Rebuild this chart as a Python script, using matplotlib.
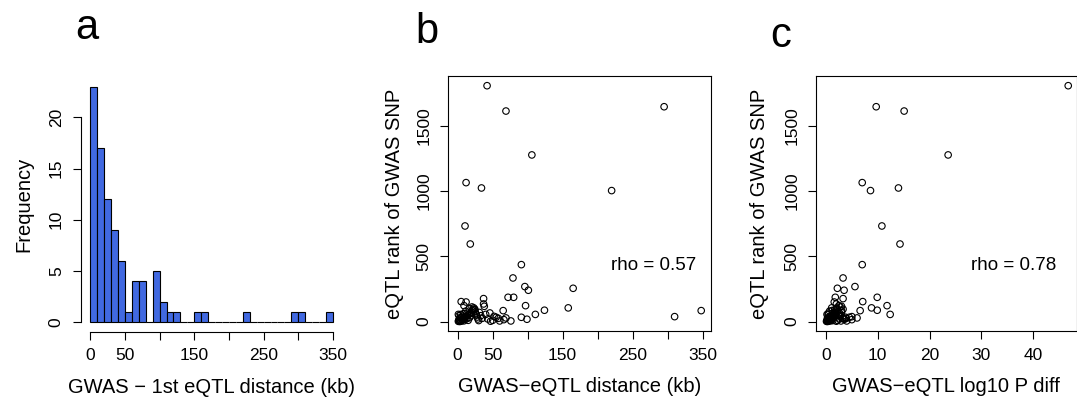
import numpy as np
import matplotlib
matplotlib.use("Agg")
import matplotlib.pyplot as plt

plt.rcParams['font.family'] = ['Liberation Sans', 'DejaVu Sans']

# panel a: histogram of GWAS - 1st eQTL distance, 10 kb bins from 0 to 350
bin_edges = list(range(0, 360, 10))
bin_counts = [23, 17, 12, 9, 6, 1, 4, 4, 0, 5, 2, 1, 1, 0, 0, 1, 1, 0, 0, 0,
              0, 0, 1, 0, 0, 0, 0, 0, 0, 1, 1, 0, 0, 0, 1]

# panels b and c: one entry per GWAS SNP
dist_kb = [42, 295, 69, 106, 12, 34, 220, 10.5, 18, 91, 79, 165, 96, 101, 72, 80,
           37, 37, 38, 97, 5, 12, 9, 158, 124, 111, 65, 348, 310, 91, 99, 69, 66,
           76, 47, 55, 46,
           1, 2, 3, 1.5, 4, 5, 6, 2.5, 7, 8, 3.5, 9, 10, 11, 12, 13, 14, 15, 16,
           17, 18, 19, 20, 21, 22, 23, 24, 25, 26, 27, 28, 29, 30, 6.5, 4.5, 8.5,
           11.5, 2, 5.5, 31, 33, 35, 40, 43, 50, 52, 58, 60, 16.5, 20.5, 24.5,
           9.5, 13.5, 1]
eqtl_rank = [1806, 1645, 1612, 1276, 1064, 1023, 1003, 732, 594, 436, 334, 255, 268,
             240, 186, 186, 176, 135, 117, 122, 153, 150, 122, 105, 87, 55, 84, 84,
             38, 33, 18, 28, 15, 5, 3, 33, 66,
             2, 5, 1, 10, 8, 3, 15, 20, 12, 25, 30, 6, 18, 35, 40, 22, 48, 10, 55,
             30, 62, 45, 70, 85, 95, 105, 90, 75, 60, 50, 35, 20, 8, 40, 55, 60,
             80, 45, 30, 70, 45, 25, 55, 20, 10, 40, 25, 5, 100, 112, 95, 28, 65, 55]
log10p_diff = [46.8, 9.7, 15.1, 23.6, 7.0, 14.0, 8.6, 10.8, 14.3, 7.0, 3.3, 2.2, 5.6,
               3.5, 1.8, 9.9, 3.3, 2.0, 3.0, 11.8, 7.1, 1.6, 2.5, 8.8, 9.9, 12.4,
               6.6, 3.0, 5.0, 4.5, 3.5, 6.0, 5.0, 4.0, 2.0, 3.8, 2.6,
               0.1, 0.2, 0.3, 0.4, 0.2, 0.5, 0.6, 0.3, 0.8, 0.7, 0.5, 0.9, 1.0, 0.8,
               1.1, 1.2, 1.3, 0.6, 1.5, 1.0, 1.6, 1.4, 1.8, 1.2, 2.0, 1.1, 1.7, 2.2,
               1.9, 2.4, 1.5, 2.6, 1.3, 0.9, 0.4, 1.2, 0.7, 1.0, 1.4, 3.0, 2.8, 3.2,
               2.5, 3.6, 2.2, 1.8, 3.9, 2.9, 2.1, 2.7, 3.3, 0.3, 0.5, 0.2]

rho_b = "rho = 0.57"
rho_c = "rho = 0.78"

W, H = 1077, 401
fig = plt.figure(figsize=(W / 100, H / 100), dpi=100)

def px_axes(left, top, right, bottom):
    return fig.add_axes([left / W, (H - bottom) / H, (right - left) / W, (bottom - top) / H])

tick_fs = 12.5
lab_fs = 14.5

def r_ticks(ax):
    ax.tick_params(direction='out', length=5.5, width=0.8, pad=6.5,
                   labelsize=tick_fs, colors='black')
    ax.tick_params(axis='y', labelrotation=90)
    for t in ax.get_yticklabels():
        t.set_va('center')

# ---- a ----
ax = px_axes(80.5, 77.3, 342.7, 331.5)
lefts = bin_edges[:-1]
ax.bar(lefts, bin_counts, width=10, align='edge', color='#4169E1',
       edgecolor='black', linewidth=0.8)
ax.set_xlim(-14, 364)
ax.set_ylim(-0.92, 23.92)
for s in ['top', 'right']:
    ax.spines[s].set_visible(False)
ax.spines['bottom'].set_bounds(0, 350)
ax.spines['left'].set_bounds(0, 20)
ax.set_xticks(range(0, 400, 50))
ax.set_xticklabels(['0', '50', '', '150', '', '250', '', '350'])
ax.set_yticks([0, 5, 10, 15, 20])
r_ticks(ax)
ax.set_xlabel("GWAS \u2212 1st eQTL distance (kb)", fontsize=lab_fs, labelpad=10.5)
ax.set_ylabel("Frequency", fontsize=lab_fs, labelpad=11)

# ---- b ----
ax = px_axes(448.3, 76.3, 711, 331)
ax.scatter(dist_kb, eqtl_rank, s=22, facecolors='none', edgecolors='black', linewidths=0.8)
ax.set_xlim(-13.4, 362)
ax.set_ylim(-72, 1878)
ax.set_xticks(range(0, 400, 50))
ax.set_xticklabels(['0', '50', '', '150', '', '250', '', '350'])
ax.set_yticks([0, 500, 1000, 1500])
r_ticks(ax)
ax.set_xlabel("GWAS\u2212eQTL distance (kb)", fontsize=lab_fs, labelpad=10.5)
ax.set_ylabel("eQTL rank of GWAS SNP", fontsize=lab_fs, labelpad=9)
ax.text(0.78, 0.259, rho_b, transform=ax.transAxes, ha='center', va='center', fontsize=13.5)

# ---- c ----
ax = px_axes(816.3, 76.3, 1076.5, 331)
ax.scatter(log10p_diff, eqtl_rank, s=22, facecolors='none', edgecolors='black', linewidths=0.8)
ax.set_xlim(-1.87, 48.4)
ax.set_ylim(-72, 1878)
ax.set_xticks([0, 10, 20, 30, 40])
ax.set_yticks([0, 500, 1000, 1500])
r_ticks(ax)
ax.set_xlabel("GWAS\u2212eQTL log10 P diff", fontsize=lab_fs, labelpad=10.5)
ax.set_ylabel("eQTL rank of GWAS SNP", fontsize=lab_fs, labelpad=11.5)
ax.text(0.757, 0.259, rho_c, transform=ax.transAxes, ha='center', va='center', fontsize=13.5)

# panel letters
for letter, x, y in [("a", 75, 39), ("b", 415, 43), ("c", 770, 47)]:
    fig.text(x / W, (H - y) / H, letter, fontsize=30, ha='left', va='baseline')

fig.savefig("out.png", dpi=100)
